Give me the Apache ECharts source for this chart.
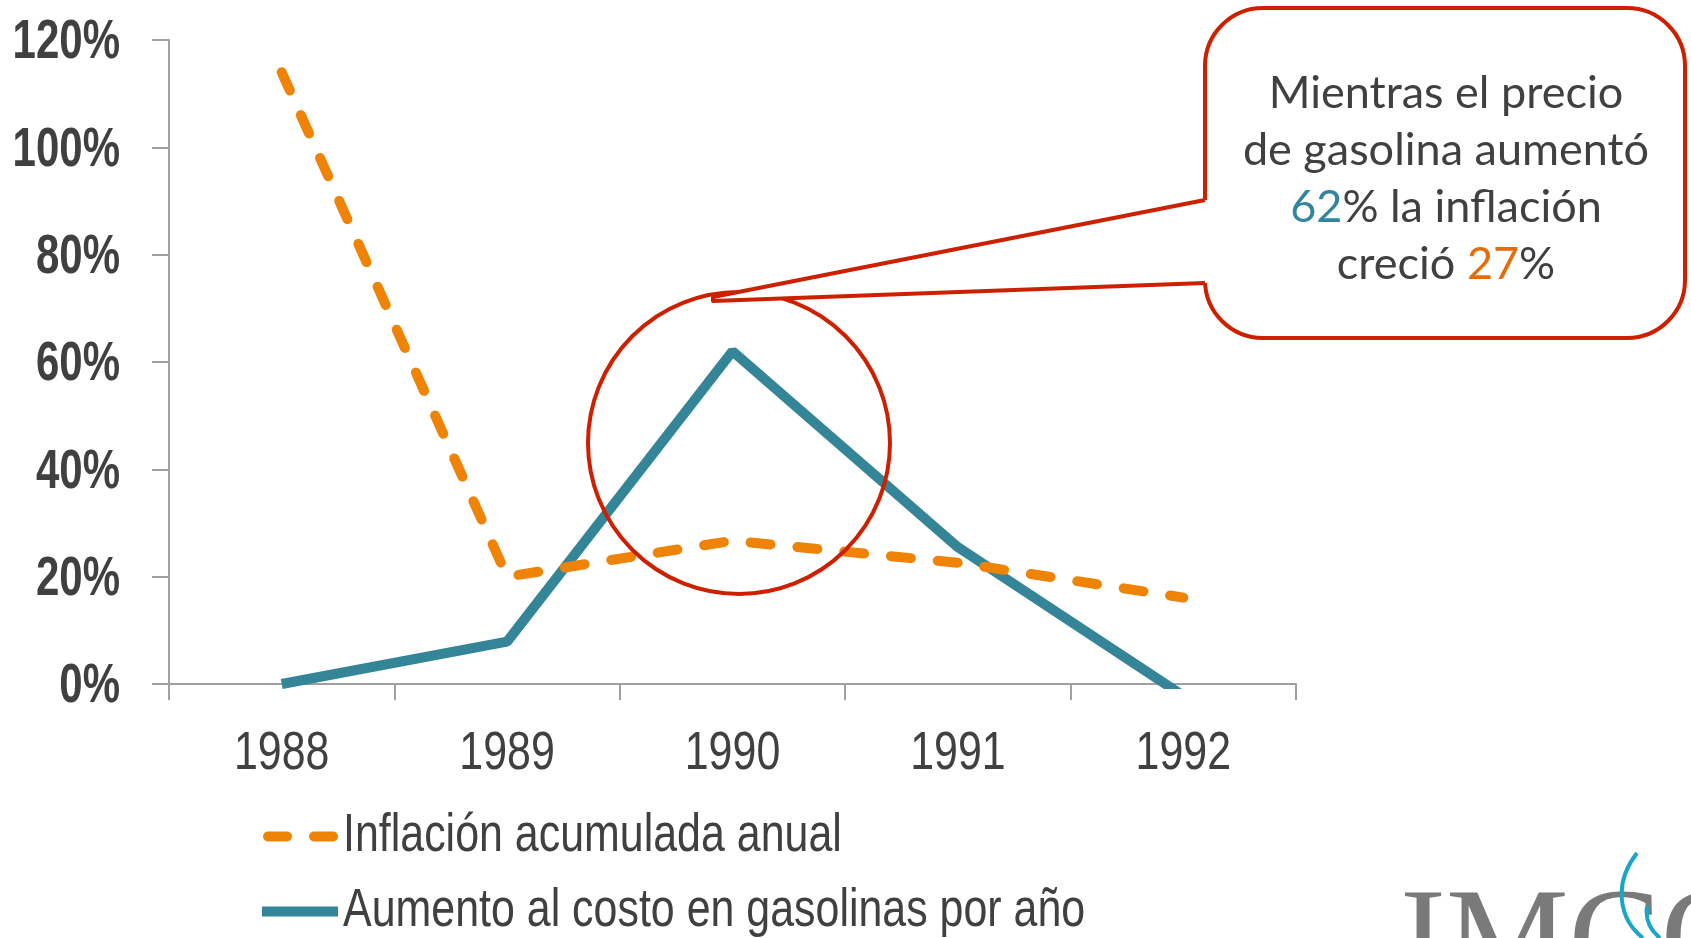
<!DOCTYPE html>
<html>
<head>
<meta charset="utf-8">
<script src="https://cdn.jsdelivr.net/npm/echarts@6/dist/echarts.min.js"></script>
<style>
  html, body { margin: 0; padding: 0; background: #fff; }
  #chart { width: 1691px; height: 938px; }
</style>
</head>
<body>
<div id="chart"></div>
<script>
// datos
const years = ['1988', '1989', '1990', '1991', '1992']
const inflacion = [114, 20, 26.7, 22.6, 16.1]
const gasolina = [0, 7.9, 62, 25.5, -2.2]
const yTicks = [0, 20, 40, 60, 80, 100, 120]

// no hay Arial Narrow: se usa Liberation Sans y luego se comprime en x
const narrow = "'Liberation Sans', Arial, sans-serif"
const textGray = '#404040'
const orange = '#EE8305'
const teal = '#338597'
const red = '#CC2000'

let myChart = echarts.init(document.getElementById('chart'))

const option = {
  backgroundColor: '#fff',
  animation: false,
  grid: {
    left: 169,
    right: 395,
    top: 40,
    bottom: 254,
    outerBoundsMode: 'none',
    containLabel: false
  },
  legend: [
    {
      data: ['Inflación acumulada anual'],
      left: 257,
      top: 810,
      padding: 0,
      itemWidth: 76,
      itemHeight: 12,
      itemStyle: { opacity: 0 }, // sin símbolo, solo la línea
      lineStyle: { width: 10, type: [19, 27], dashOffset: -6, cap: 'round' },
      textStyle: { fontFamily: narrow, fontSize: 53, color: textGray }
    },
    {
      data: ['Aumento al costo en gasolinas por año'],
      left: 257,
      top: 885,
      padding: 0,
      itemWidth: 76,
      itemHeight: 12,
      itemStyle: { opacity: 0 },
      lineStyle: { width: 10 },
      textStyle: { fontFamily: narrow, fontSize: 53, color: textGray }
    }
  ],
  xAxis: {
    type: 'category',
    data: years,
    boundaryGap: true,
    axisLine: { lineStyle: { color: '#A0A0A0', width: 2 } },
    axisTick: { show: true, length: 16, lineStyle: { color: '#A0A0A0', width: 2 } },
    axisLabel: { color: textGray, fontFamily: narrow, fontSize: 53, margin: 44 },
    splitLine: { show: false }
  },
  yAxis: {
    type: 'value',
    min: yTicks[0],
    max: yTicks[yTicks.length - 1],
    interval: 20,
    axisLine: { show: true, lineStyle: { color: '#A0A0A0', width: 2 } },
    axisTick: { show: true, length: 17, lineStyle: { color: '#A0A0A0', width: 2 } },
    axisLabel: {
      color: textGray,
      fontFamily: narrow,
      fontWeight: 'bold',
      fontSize: 56,
      margin: 49,
      formatter: '{value}%'
    },
    splitLine: { show: false }
  },
  series: [
    {
      name: 'Inflación acumulada anual',
      type: 'line',
      data: inflacion,
      symbol: 'none',
      color: orange,
      lineStyle: { color: orange, width: 10, type: [20, 27], cap: 'round', join: 'round' },
      z: 3
    },
    {
      name: 'Aumento al costo en gasolinas por año',
      type: 'line',
      data: gasolina,
      symbol: 'none',
      color: teal,
      lineStyle: { color: teal, width: 10 },
      z: 2
    }
  ],
  graphic: [
    // círculo rojo sobre 1990
    {
      type: 'circle',
      z: 20,
      shape: { cx: 739, cy: 443, r: 151 },
      style: { fill: 'none', stroke: red, lineWidth: 4 }
    },
    // globo de texto
    {
      type: 'rect',
      z: 21,
      shape: { x: 1205, y: 8, width: 480, height: 330, r: 58 },
      style: { fill: '#fff', stroke: red, lineWidth: 4 }
    },
    {
      type: 'polygon',
      z: 22,
      shape: { points: [[1210, 200], [1205, 200], [713, 297], [713, 301], [1205, 283], [1210, 283]] },
      style: { fill: '#fff', stroke: 'none' }
    },
    {
      type: 'polyline',
      z: 23,
      shape: { points: [[1205, 200], [713, 297], [713, 301], [1205, 283]] },
      style: { fill: 'none', stroke: red, lineWidth: 4, lineJoin: 'round' }
    },
    {
      type: 'text',
      z: 24,
      x: 1446,
      y: 65,
      style: {
        text: '{a|Mientras el precio}\n{a|de gasolina aumentó}\n{b|62}{a|% la inflación}\n{a|creció }{c|27}{a|%}',
        align: 'center',
        verticalAlign: 'top',
        rich: {
          a: { fontFamily: 'Lato', fontSize: 45, lineHeight: 57, fill: textGray },
          b: { fontFamily: 'Lato', fontSize: 45, lineHeight: 57, fill: '#31859C' },
          c: { fontFamily: 'Lato', fontSize: 45, lineHeight: 57, fill: '#E46C0A' }
        }
      }
    },
    // logo (recortado abajo)
    {
      type: 'text',
      z: 5,
      x: 1400,
      y: 878,
      style: {
        text: 'IMCO',
        fontFamily: "'Liberation Serif', serif",
        fontSize: 138,
        fill: '#7A7A7A',
        verticalAlign: 'top'
      }
    },
    {
      type: 'bezierCurve',
      z: 6,
      shape: { x1: 1637, y1: 853, x2: 1643, y2: 938, cpx1: 1612, cpy1: 885, cpx2: 1620, cpy2: 920 },
      style: { stroke: '#1AA6C8', lineWidth: 4, fill: 'none' }
    },
    {
      type: 'bezierCurve',
      z: 6,
      shape: { x1: 1647, y1: 906, x2: 1660, y2: 938, cpx1: 1645, cpy1: 920, cpx2: 1650, cpy2: 930 },
      style: { stroke: '#1AA6C8', lineWidth: 4, fill: 'none' }
    }
  ]
}

myChart.setOption(option)

// comprimir en x los textos de ejes y leyenda (imitar Arial Narrow)
const condensar = () => {
  const zr = myChart.getZr()
  zr.storage.getRoots().forEach(function (root) {
    const visit = function (el) {
      if (el.type === 'text' && el.style && el.style.fontFamily === narrow) {
        el.originX = el.style.x || 0
        if (el.style.fontWeight === 'bold') {
          // etiquetas del eje y: un poco más abajo que la marca
          el.scaleX = 0.75
          el.y += 3
        } else {
          el.scaleX = 0.81
        }
        el.markRedraw()
      }
    }
    visit(root)
    if (root.traverse) root.traverse(visit)
  })
  zr.refresh()
}
condensar()

window.addEventListener('resize', function () {
  myChart.resize()
  condensar()
})
</script>
</body>
</html>
